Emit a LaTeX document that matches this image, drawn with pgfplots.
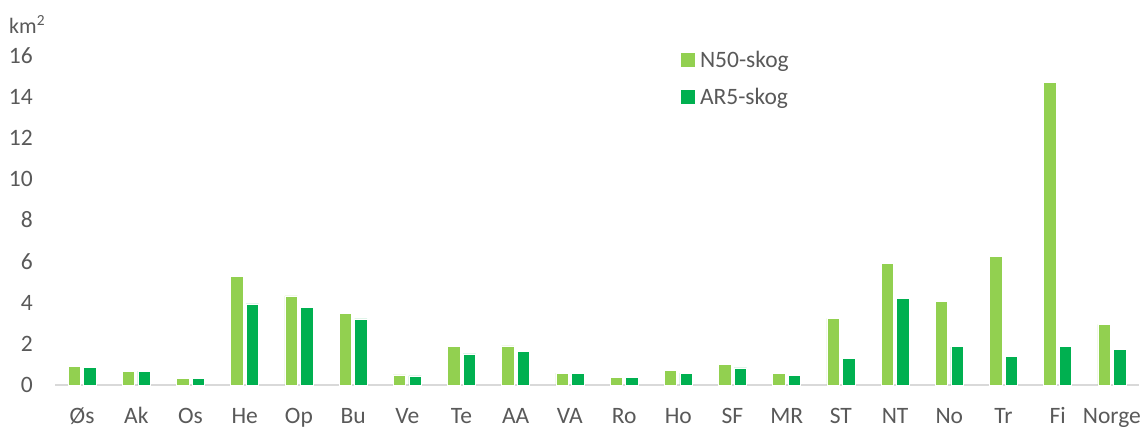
\documentclass[border=0pt]{standalone}
\usepackage{fontspec}
\setmainfont{Carlito}
\usepackage{pgfplots}
\usepackage{pgfplotstable}
\pgfplotsset{compat=1.18}
\definecolor{lg}{HTML}{92D050}
\definecolor{dg}{HTML}{00B050}
\definecolor{txt}{HTML}{595959}
\definecolor{axg}{HTML}{D9D9D9}
\pgfplotstableread{
i n a
0 0.92 0.86
1 0.68 0.67
2 0.34 0.34
3 5.27 3.94
4 4.33 3.78
5 3.49 3.21
6 0.49 0.44
7 1.86 1.51
8 1.90 1.64
9 0.58 0.58
10 0.37 0.36
11 0.71 0.58
12 1.01 0.83
13 0.57 0.47
14 3.24 1.30
15 5.92 4.22
16 4.07 1.86
17 6.24 1.38
18 14.72 1.86
19 2.95 1.72
}\data
\begin{document}
\begin{tikzpicture}
\useasboundingbox (-55bp,-43bp) rectangle (1086bp,385bp);
\begin{axis}[
  scale only axis, width=1084bp, height=329bp,
  xmin=-0.5, xmax=19.5, ymin=0, ymax=16,
  ytick={0,2,...,16},
  xtick={0,...,19},
  xticklabels={Øs,Ak,Os,He,Op,Bu,Ve,Te,AA,VA,Ro,Ho,SF,MR,ST,NT,No,Tr,Fi,Norge},
  /pgf/number format/assume math mode=true,
  axis x line*=bottom, axis y line*=left,
  y axis line style={draw=none},
  x axis line style={-, draw=axg, line width=1.3bp},
  major tick length=0pt, tick style={draw=none},
  ticklabel style={font=\fontsize{23.5bp}{27bp}\selectfont, text=txt},
  yticklabel style={anchor=base east, inner sep=0pt, xshift=-22bp, yshift=-7.5bp},
  xticklabel style={anchor=base, inner sep=0pt, yshift=-38bp},
  title={km\textsuperscript{2}},
  title style={at={(axis description cs:0,1)}, anchor=base west, inner sep=0pt, xshift=-46bp, yshift=17bp, font=\fontsize{22bp}{25bp}\selectfont, text=txt},
  legend style={at={(axis description cs:0.5775,1.015)}, anchor=north west, draw=none, fill=none, inner sep=0pt, outer sep=0pt, row sep=19bp, nodes={inner sep=0pt}, font=\fontsize{23.5bp}{27bp}\selectfont, text=txt},
  legend cell align=left,
  legend image code/.code={\fill[#1,draw=none] (0bp,-7bp) rectangle (14bp,7bp);},
]
\addplot[ybar, bar width=12.5bp, bar shift=-7.8bp, fill=lg, draw=white, line width=0.6bp] table[x=i,y=n]{\data};
\addlegendentry{\hspace{5bp}N50-skog}
\addplot[ybar, bar width=12.5bp, bar shift=7.8bp, fill=dg, draw=white, line width=0.6bp] table[x=i,y=a]{\data};
\addlegendentry{\hspace{5bp}AR5-skog}
\end{axis}
\end{tikzpicture}
\end{document}
